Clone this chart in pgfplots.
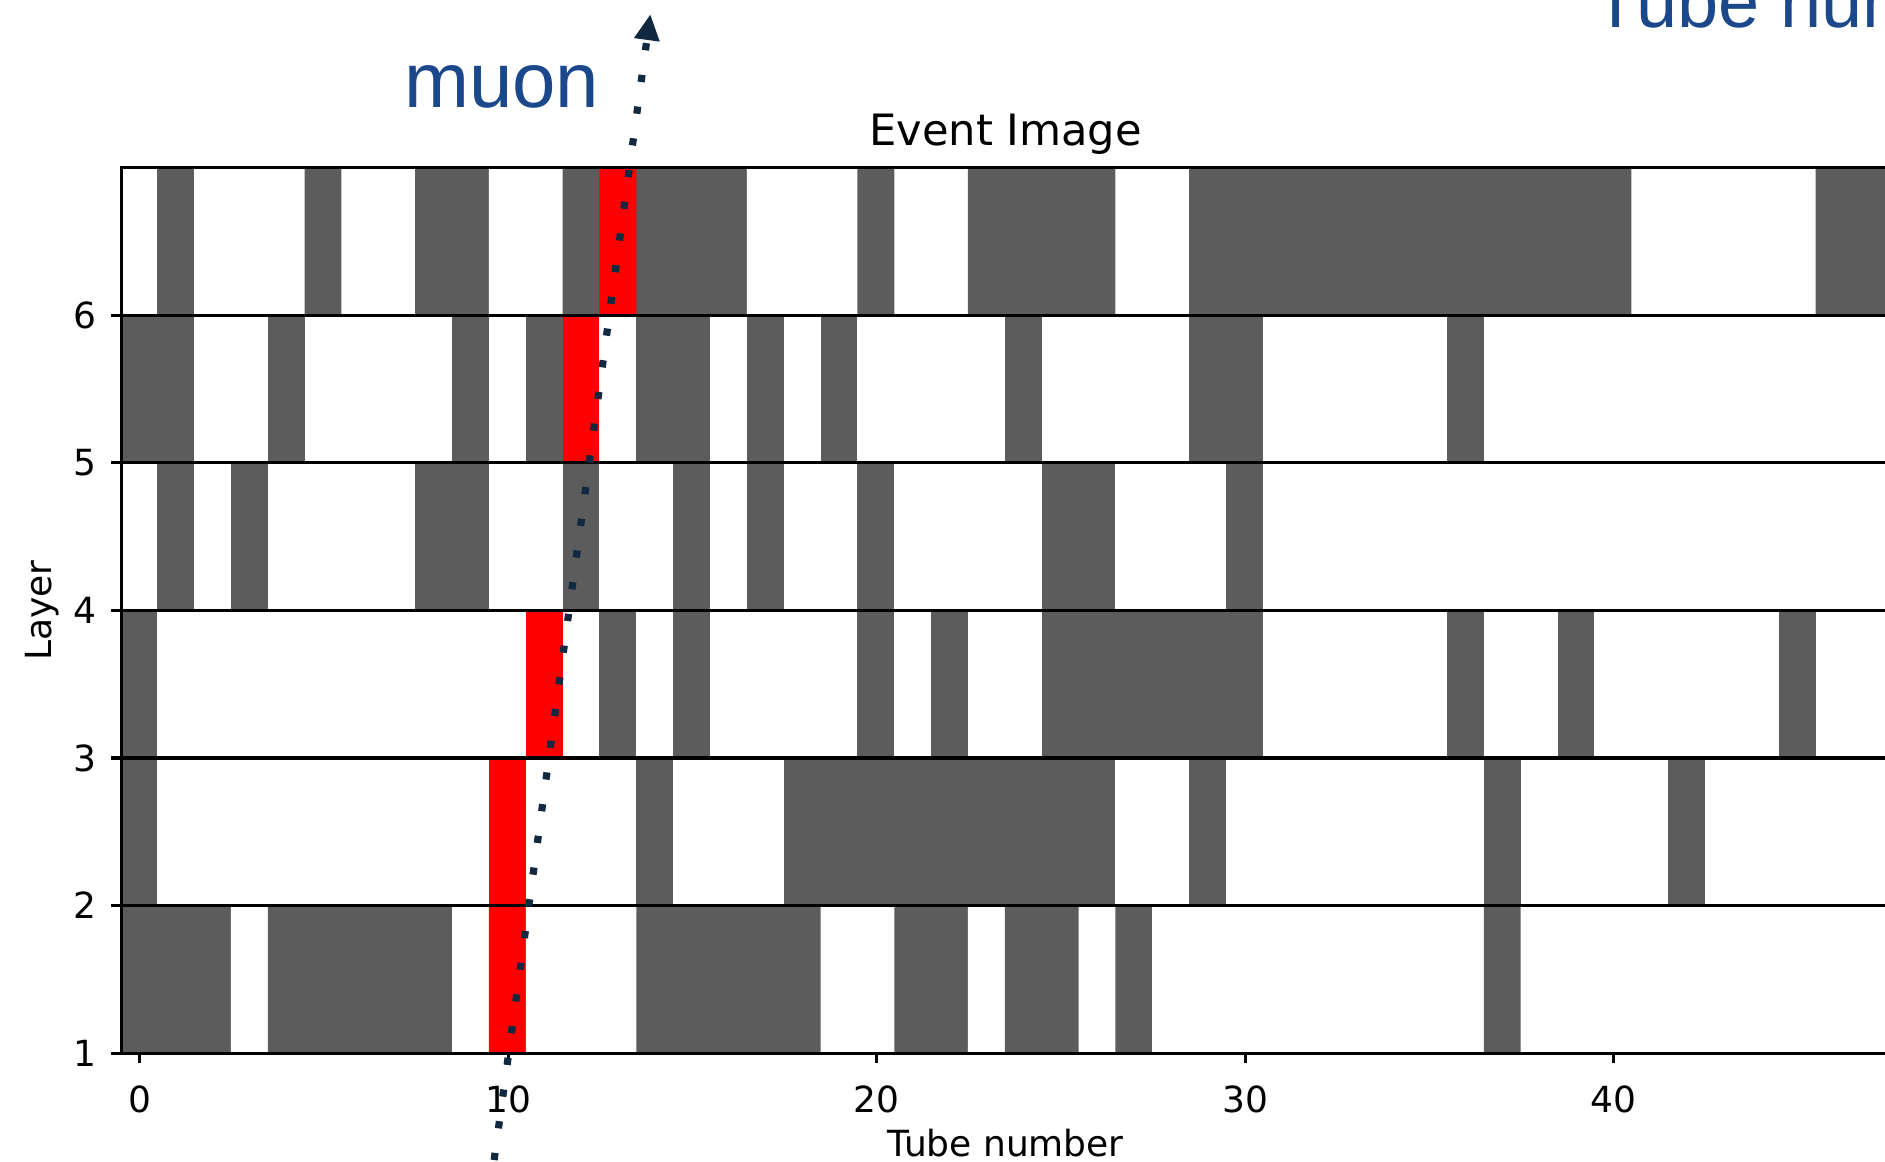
\documentclass[border=0pt]{standalone}
\usepackage{pgfplots}
\pgfplotsset{compat=1.18}
\usepackage{fontspec}
\setmainfont{DejaVu Sans}
\newfontfamily\arialfont{Liberation Sans}
\usetikzlibrary{arrows.meta}
\definecolor{cellgray}{RGB}{92,92,92}
\definecolor{muonblue}{RGB}{26,72,138}
\definecolor{arrownavy}{RGB}{16,40,64}
\begin{document}
\begin{tikzpicture}
\begin{axis}[
  name=ax, at={(0,0)}, anchor=south west,
  scale only axis, width=442.2pt, height=221.4pt,
  xmin=-0.5, xmax=47.5, ymin=1, ymax=7, enlargelimits=false,
  xtick={0,10,20,30,40,50}, ytick={1,2,3,4,5,6},
  tick align=outside, major tick length=2.5pt,
  xtick pos=bottom, ytick pos=left,
  ymajorgrids, grid style={black, line width=0.8pt},
  axis line style={black, line width=0.8pt},
  every tick/.style={black, line width=0.8pt},
  axis on top,
  /pgf/number format/assume math mode=true,
  tick label style={font=\fontsize{9}{10}\selectfont, text=black},
  xticklabel style={anchor=base, yshift=-12.3pt},
  yticklabel style={anchor=east, inner sep=0pt, xshift=-3.6pt},
  every axis title shift=0pt,
  title={Event Image},
  title style={at={(axis description cs:0.5,1.0248)}, anchor=base, font=\fontsize{10.8}{12}\selectfont},
  xlabel={Tube number},
  xlabel style={at={(axis description cs:0.5,-0.117)}, anchor=base, font=\fontsize{9}{10}\selectfont},
  ylabel={Layer},
  ylabel style={at={(axis description cs:-0.0396,0.5)}, anchor=base, font=\fontsize{9}{10}\selectfont},
  colormap={evcm}{rgb255=(255,255,255) rgb255=(92,92,92) rgb255=(255,0,0)},
  colormap access=direct,
]
\addplot[matrix plot*, mesh/cols=48, point meta=explicit] table[meta=c, row sep=\\] {
x y c\\
0 1.5 1\\ 1 1.5 1\\ 2 1.5 1\\ 3 1.5 0\\ 4 1.5 1\\ 5 1.5 1\\ 6 1.5 1\\ 7 1.5 1\\ 8 1.5 1\\ 9 1.5 0\\ 10 1.5 2\\ 11 1.5 0\\ 12 1.5 0\\ 13 1.5 0\\ 14 1.5 1\\ 15 1.5 1\\ 16 1.5 1\\ 17 1.5 1\\ 18 1.5 1\\ 19 1.5 0\\ 20 1.5 0\\ 21 1.5 1\\ 22 1.5 1\\ 23 1.5 0\\ 24 1.5 1\\ 25 1.5 1\\ 26 1.5 0\\ 27 1.5 1\\ 28 1.5 0\\ 29 1.5 0\\ 30 1.5 0\\ 31 1.5 0\\ 32 1.5 0\\ 33 1.5 0\\ 34 1.5 0\\ 35 1.5 0\\ 36 1.5 0\\ 37 1.5 1\\ 38 1.5 0\\ 39 1.5 0\\ 40 1.5 0\\ 41 1.5 0\\ 42 1.5 0\\ 43 1.5 0\\ 44 1.5 0\\ 45 1.5 0\\ 46 1.5 0\\ 47 1.5 0\\
0 2.5 1\\ 1 2.5 0\\ 2 2.5 0\\ 3 2.5 0\\ 4 2.5 0\\ 5 2.5 0\\ 6 2.5 0\\ 7 2.5 0\\ 8 2.5 0\\ 9 2.5 0\\ 10 2.5 2\\ 11 2.5 0\\ 12 2.5 0\\ 13 2.5 0\\ 14 2.5 1\\ 15 2.5 0\\ 16 2.5 0\\ 17 2.5 0\\ 18 2.5 1\\ 19 2.5 1\\ 20 2.5 1\\ 21 2.5 1\\ 22 2.5 1\\ 23 2.5 1\\ 24 2.5 1\\ 25 2.5 1\\ 26 2.5 1\\ 27 2.5 0\\ 28 2.5 0\\ 29 2.5 1\\ 30 2.5 0\\ 31 2.5 0\\ 32 2.5 0\\ 33 2.5 0\\ 34 2.5 0\\ 35 2.5 0\\ 36 2.5 0\\ 37 2.5 1\\ 38 2.5 0\\ 39 2.5 0\\ 40 2.5 0\\ 41 2.5 0\\ 42 2.5 1\\ 43 2.5 0\\ 44 2.5 0\\ 45 2.5 0\\ 46 2.5 0\\ 47 2.5 0\\
0 3.5 1\\ 1 3.5 0\\ 2 3.5 0\\ 3 3.5 0\\ 4 3.5 0\\ 5 3.5 0\\ 6 3.5 0\\ 7 3.5 0\\ 8 3.5 0\\ 9 3.5 0\\ 10 3.5 0\\ 11 3.5 2\\ 12 3.5 0\\ 13 3.5 1\\ 14 3.5 0\\ 15 3.5 1\\ 16 3.5 0\\ 17 3.5 0\\ 18 3.5 0\\ 19 3.5 0\\ 20 3.5 1\\ 21 3.5 0\\ 22 3.5 1\\ 23 3.5 0\\ 24 3.5 0\\ 25 3.5 1\\ 26 3.5 1\\ 27 3.5 1\\ 28 3.5 1\\ 29 3.5 1\\ 30 3.5 1\\ 31 3.5 0\\ 32 3.5 0\\ 33 3.5 0\\ 34 3.5 0\\ 35 3.5 0\\ 36 3.5 1\\ 37 3.5 0\\ 38 3.5 0\\ 39 3.5 1\\ 40 3.5 0\\ 41 3.5 0\\ 42 3.5 0\\ 43 3.5 0\\ 44 3.5 0\\ 45 3.5 1\\ 46 3.5 0\\ 47 3.5 0\\
0 4.5 0\\ 1 4.5 1\\ 2 4.5 0\\ 3 4.5 1\\ 4 4.5 0\\ 5 4.5 0\\ 6 4.5 0\\ 7 4.5 0\\ 8 4.5 1\\ 9 4.5 1\\ 10 4.5 0\\ 11 4.5 0\\ 12 4.5 1\\ 13 4.5 0\\ 14 4.5 0\\ 15 4.5 1\\ 16 4.5 0\\ 17 4.5 1\\ 18 4.5 0\\ 19 4.5 0\\ 20 4.5 1\\ 21 4.5 0\\ 22 4.5 0\\ 23 4.5 0\\ 24 4.5 0\\ 25 4.5 1\\ 26 4.5 1\\ 27 4.5 0\\ 28 4.5 0\\ 29 4.5 0\\ 30 4.5 1\\ 31 4.5 0\\ 32 4.5 0\\ 33 4.5 0\\ 34 4.5 0\\ 35 4.5 0\\ 36 4.5 0\\ 37 4.5 0\\ 38 4.5 0\\ 39 4.5 0\\ 40 4.5 0\\ 41 4.5 0\\ 42 4.5 0\\ 43 4.5 0\\ 44 4.5 0\\ 45 4.5 0\\ 46 4.5 0\\ 47 4.5 0\\
0 5.5 1\\ 1 5.5 1\\ 2 5.5 0\\ 3 5.5 0\\ 4 5.5 1\\ 5 5.5 0\\ 6 5.5 0\\ 7 5.5 0\\ 8 5.5 0\\ 9 5.5 1\\ 10 5.5 0\\ 11 5.5 1\\ 12 5.5 2\\ 13 5.5 0\\ 14 5.5 1\\ 15 5.5 1\\ 16 5.5 0\\ 17 5.5 1\\ 18 5.5 0\\ 19 5.5 1\\ 20 5.5 0\\ 21 5.5 0\\ 22 5.5 0\\ 23 5.5 0\\ 24 5.5 1\\ 25 5.5 0\\ 26 5.5 0\\ 27 5.5 0\\ 28 5.5 0\\ 29 5.5 1\\ 30 5.5 1\\ 31 5.5 0\\ 32 5.5 0\\ 33 5.5 0\\ 34 5.5 0\\ 35 5.5 0\\ 36 5.5 1\\ 37 5.5 0\\ 38 5.5 0\\ 39 5.5 0\\ 40 5.5 0\\ 41 5.5 0\\ 42 5.5 0\\ 43 5.5 0\\ 44 5.5 0\\ 45 5.5 0\\ 46 5.5 0\\ 47 5.5 0\\
0 6.5 0\\ 1 6.5 1\\ 2 6.5 0\\ 3 6.5 0\\ 4 6.5 0\\ 5 6.5 1\\ 6 6.5 0\\ 7 6.5 0\\ 8 6.5 1\\ 9 6.5 1\\ 10 6.5 0\\ 11 6.5 0\\ 12 6.5 1\\ 13 6.5 2\\ 14 6.5 1\\ 15 6.5 1\\ 16 6.5 1\\ 17 6.5 0\\ 18 6.5 0\\ 19 6.5 0\\ 20 6.5 1\\ 21 6.5 0\\ 22 6.5 0\\ 23 6.5 1\\ 24 6.5 1\\ 25 6.5 1\\ 26 6.5 1\\ 27 6.5 0\\ 28 6.5 0\\ 29 6.5 1\\ 30 6.5 1\\ 31 6.5 1\\ 32 6.5 1\\ 33 6.5 1\\ 34 6.5 1\\ 35 6.5 1\\ 36 6.5 1\\ 37 6.5 1\\ 38 6.5 1\\ 39 6.5 1\\ 40 6.5 1\\ 41 6.5 0\\ 42 6.5 0\\ 43 6.5 0\\ 44 6.5 0\\ 45 6.5 0\\ 46 6.5 1\\ 47 6.5 1\\
};
\coordinate (mA) at (axis cs:9.62,0.276);
\coordinate (mB) at (axis cs:13.86,8.04);
\coordinate (muonpos) at (axis cs:7.16,7.41);
\coordinate (tubepos) at (axis cs:39.44,7.952);
\end{axis}
\draw[arrownavy, line width=1.8pt, dash pattern=on 1.8pt off 6.2pt, -{Triangle[length=6.5pt,width=6pt]}] (mA) -- (mB);
\node[anchor=base west, inner sep=0pt, font=\arialfont\fontsize{19.5}{21}\selectfont, text=muonblue] at (muonpos) {muon};
\node[anchor=base west, inner sep=0pt, font=\arialfont\fontsize{18.5}{20}\selectfont, text=muonblue] at (tubepos) {Tube number};
\pgfresetboundingbox
\path[use as bounding box] (-30.3pt,-27.2pt) rectangle ++(471.25pt,290.5pt);
\end{tikzpicture}
\end{document}
